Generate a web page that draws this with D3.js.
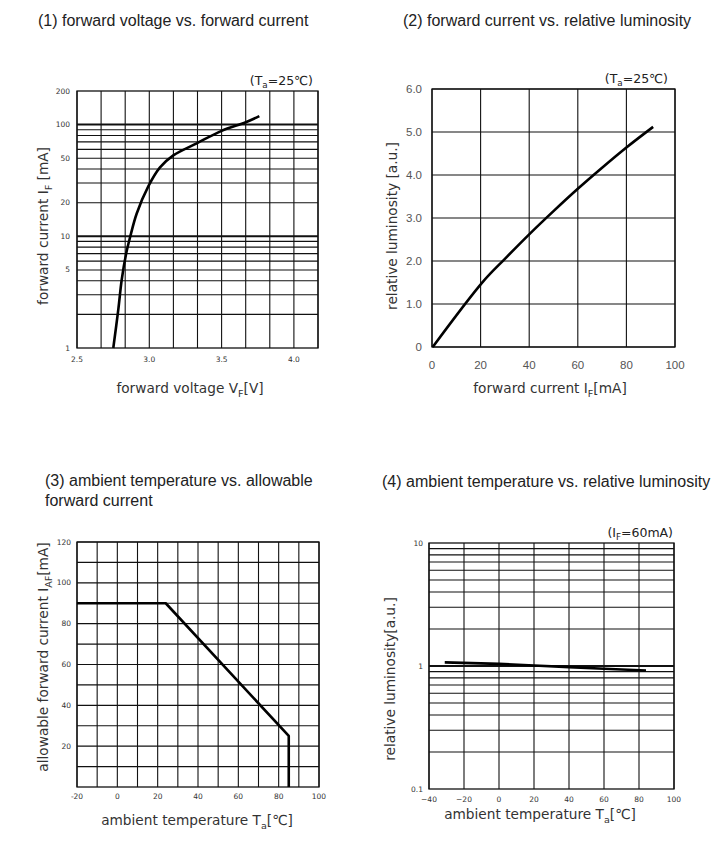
<!DOCTYPE html>
<html><head><meta charset="utf-8">
<script src="https://cdn.jsdelivr.net/npm/d3@7"></script>
<style>body{margin:0;background:#fff} svg{display:block}</style>
</head><body>
<svg id="c" width="717" height="848"></svg>
<script>
// ---- Panel 1: forward voltage vs forward current ----
const vfVoltage = [2.751, 2.786, 2.809, 2.839, 2.867, 2.913, 2.993, 3.074, 3.166, 3.328, 3.50, 3.667, 3.761];
const vfCurrent = [1, 2.23, 4.06, 6.9, 9.8, 16, 28, 41.4, 53, 68, 88, 105, 119];
const vfXTicks = [2.5, 3.0, 3.5, 4.0];
const vfXGrid = [2.5, 2.6667, 2.8333, 3.0, 3.1667, 3.3333, 3.5, 3.6667, 3.8333, 4.0, 4.1667];
const vfYTicks = [1, 5, 10, 20, 50, 100, 200];
const vfYGrid = [2, 3, 4, 5, 6, 7, 8, 9, 10, 20, 30, 40, 50, 60, 70, 80, 90, 100];

// ---- Panel 2: forward current vs relative luminosity ----
const lumCurrent = [0.3, 21, 30, 40, 50, 60, 70, 80, 91];
const lumValue = [0, 1.52, 2.05, 2.62, 3.16, 3.68, 4.17, 4.64, 5.12];
const lumXTicks = [0, 20, 40, 60, 80, 100];
const lumYTicks = [0, 1, 2, 3, 4, 5, 6];
const lumYLabels = ["0", "1.0", "2.0", "3.0", "4.0", "5.0", "6.0"];

// ---- Panel 3: ambient temperature vs allowable forward current ----
const derTemp = [-20, 24, 85, 85];
const derCurrent = [90, 90, 25, 0];
const derXTicks = [-20, 0, 20, 40, 60, 80, 100];
const derXGrid = [-20, -10, 0, 10, 20, 30, 40, 50, 60, 70, 80, 90, 100];
const derYTicks = [20, 40, 60, 80, 100, 120];
const derYGrid = [10, 20, 30, 40, 50, 60, 70, 80, 90, 100, 110, 120];

// ---- Panel 4: ambient temperature vs relative luminosity ----
const tlTemp = [-31, 0, 20, 40, 60, 84];
const tlLum = [1.07, 1.04, 1.01, 0.98, 0.95, 0.92];
const tlXTicks = [-40, -20, 0, 20, 40, 60, 80, 100];
const tlYTicks = [0.1, 1, 10];
const tlYGrid = [0.2, 0.3, 0.4, 0.5, 0.6, 0.7, 0.8, 0.9, 1, 2, 3, 4, 5, 6, 7, 8, 9];

const svg = d3.select("#c");
const FONT = "'DejaVu Sans', Verdana, sans-serif";
const TFONT = "'Liberation Sans', Arial, sans-serif";

function richText(g, parts, size) {
  parts.forEach(([t, sub]) => {
    const ts = g.append("tspan").text(t);
    if (sub) ts.attr("font-size", size * 0.7).attr("baseline-shift", "sub");
  });
}

function panel(cfg) {
  const g = svg.append("g");
  const x = cfg.xScale.range([cfg.left, cfg.right]);
  const y = cfg.yScale.range([cfg.bottom, cfg.top]);
  g.selectAll(".vx").data(cfg.xGrid).enter().append("line")
    .attr("x1", d => x(d)).attr("x2", d => x(d))
    .attr("y1", cfg.top).attr("y2", cfg.bottom)
    .attr("stroke", "#111").attr("stroke-width", 1.1);
  g.selectAll(".hy").data(cfg.yGrid).enter().append("line")
    .attr("y1", d => y(d)).attr("y2", d => y(d))
    .attr("x1", cfg.left).attr("x2", cfg.right)
    .attr("stroke", "#111").attr("stroke-width", d => (cfg.thick && cfg.thick.includes(d)) ? 2 : 1.1);
  g.append("rect").attr("x", cfg.left).attr("y", cfg.top)
    .attr("width", cfg.right - cfg.left).attr("height", cfg.bottom - cfg.top)
    .attr("fill", "none").attr("stroke", "#111").attr("stroke-width", 1.3);
  g.selectAll(".xt").data(cfg.xTicks).enter().append("text")
    .attr("x", d => x(d)).attr("y", cfg.bottom + cfg.xTickOff)
    .attr("text-anchor", "middle").attr("dominant-baseline", "central")
    .attr("font-family", cfg.tickFont || FONT).attr("font-size", cfg.tickSize).attr("fill", cfg.tickColor || "#333")
    .text((d, i) => cfg.xTickFmt ? cfg.xTickFmt(d, i) : d);
  g.selectAll(".yt").data(cfg.yTicks).enter().append("text")
    .attr("x", cfg.left - cfg.yTickOff).attr("y", d => y(d))
    .attr("text-anchor", "end").attr("dominant-baseline", "central")
    .attr("font-family", cfg.tickFont || FONT).attr("font-size", cfg.tickSize).attr("fill", cfg.tickColor || "#333")
    .text((d, i) => cfg.yTickFmt ? cfg.yTickFmt(d, i) : d);
  const pts = cfg.xs.map((v, i) => [v, cfg.ys[i]]);
  const line = d3.line().x(d => x(d[0])).y(d => y(d[1]));
  if (cfg.curve) line.curve(cfg.curve);
  g.append("path").datum(pts).attr("d", line)
    .attr("fill", "none").attr("stroke", "#000").attr("stroke-width", 2.6)
    .attr("stroke-linejoin", "round");
  const xt = g.append("text").attr("x", cfg.xLabelPos[0]).attr("y", cfg.xLabelPos[1])
    .attr("text-anchor", "middle").attr("dominant-baseline", "central")
    .attr("font-family", FONT).attr("font-size", cfg.labelSize).attr("fill", "#333");
  richText(xt, cfg.xLabel, cfg.labelSize);
  const yt = g.append("text")
    .attr("transform", `translate(${cfg.yLabelPos[0]},${cfg.yLabelPos[1]}) rotate(-90)`)
    .attr("text-anchor", "middle").attr("dominant-baseline", "central")
    .attr("font-family", FONT).attr("font-size", cfg.labelSize).attr("fill", "#333");
  richText(yt, cfg.yLabel, cfg.labelSize);
  if (cfg.note) {
    const nt = g.append("text").attr("x", cfg.notePos[0]).attr("y", cfg.notePos[1])
      .attr("text-anchor", "end").attr("dominant-baseline", "central")
      .attr("font-family", FONT).attr("font-size", 12.5).attr("fill", "#222");
    richText(nt, cfg.note, 12.5);
  }
  cfg.title.forEach((t, i) => {
    g.append("text").attr("x", cfg.titlePos[0]).attr("y", cfg.titlePos[1] + i * 20)
      .attr("dominant-baseline", "central")
      .attr("font-family", TFONT).attr("font-size", 16).attr("fill", "#222").text(t);
  });
}

panel({
  left: 77, right: 318, top: 91, bottom: 348,
  xScale: d3.scaleLinear().domain([2.5, 4.1667]),
  yScale: d3.scaleLog().domain([1, 200]),
  xGrid: vfXGrid, yGrid: vfYGrid, thick: [10, 100],
  xTicks: vfXTicks, yTicks: vfYTicks,
  xTickFmt: d => d.toFixed(1),
  tickSize: 7.5, xTickOff: 11, yTickOff: 7,
  xs: vfVoltage, ys: vfCurrent, curve: d3.curveCatmullRom.alpha(0.5),
  labelSize: 13.7,
  xLabel: [["forward voltage V", false], ["F", true], ["[V]", false]], xLabelPos: [190, 388],
  yLabel: [["forward current I", false], ["F", true], [" [mA]", false]], yLabelPos: [43, 226],
  note: [["(T", false], ["a", true], ["=25℃)", false]], notePos: [313, 80],
  title: ["(1) forward voltage vs. forward current"], titlePos: [38, 20]
});

panel({
  left: 432, right: 675, top: 89, bottom: 347,
  xScale: d3.scaleLinear().domain([0, 100]),
  yScale: d3.scaleLinear().domain([0, 6]),
  xGrid: lumXTicks, yGrid: lumYTicks,
  xTicks: lumXTicks, yTicks: lumYTicks,
  yTickFmt: (d, i) => lumYLabels[i],
  tickSize: 11.5, tickFont: TFONT, tickColor: "#555", xTickOff: 18, yTickOff: 10,
  xs: lumCurrent, ys: lumValue, curve: d3.curveCatmullRom.alpha(0.5),
  labelSize: 13.7,
  xLabel: [["forward current I", false], ["F", true], ["[mA]", false]], xLabelPos: [550, 388],
  yLabel: [["relative luminosity [a.u.]", false]], yLabelPos: [392, 226],
  note: [["(T", false], ["a", true], ["=25℃)", false]], notePos: [668, 78],
  title: ["(2) forward current vs. relative luminosity"], titlePos: [403, 20]
});

panel({
  left: 77, right: 319, top: 542, bottom: 787,
  xScale: d3.scaleLinear().domain([-20, 100]),
  yScale: d3.scaleLinear().domain([0, 120]),
  xGrid: derXGrid, yGrid: derYGrid,
  xTicks: derXTicks, yTicks: derYTicks,
  tickSize: 7.5, xTickOff: 9, yTickOff: 6,
  xs: derTemp, ys: derCurrent,
  labelSize: 13.7,
  xLabel: [["ambient temperature T", false], ["a", true], ["[℃]", false]], xLabelPos: [197, 820],
  yLabel: [["allowable forward current I", false], ["AF", true], ["[mA]", false]], yLabelPos: [43, 657],
  title: ["(3) ambient temperature vs. allowable", "forward current"], titlePos: [45, 480]
});

panel({
  left: 429, right: 674, top: 543, bottom: 789,
  xScale: d3.scaleLinear().domain([-40, 100]),
  yScale: d3.scaleLog().domain([0.1, 10]),
  xGrid: tlXTicks, yGrid: tlYGrid, thick: [1],
  xTicks: tlXTicks, yTicks: tlYTicks,
  xTickFmt: d => d < 0 ? "\u2212" + Math.abs(d) : d,
  tickSize: 7.5, xTickOff: 10, yTickOff: 6,
  xs: tlTemp, ys: tlLum,
  labelSize: 13.7,
  xLabel: [["ambient temperature T", false], ["a", true], ["[℃]", false]], xLabelPos: [540, 814],
  yLabel: [["relative luminosity[a.u.]", false]], yLabelPos: [390, 679],
  note: [["(I", false], ["F", true], ["=60mA)", false]], notePos: [673, 532],
  title: ["(4) ambient temperature vs. relative luminosity"], titlePos: [382, 481]
});
</script>
</body></html>
